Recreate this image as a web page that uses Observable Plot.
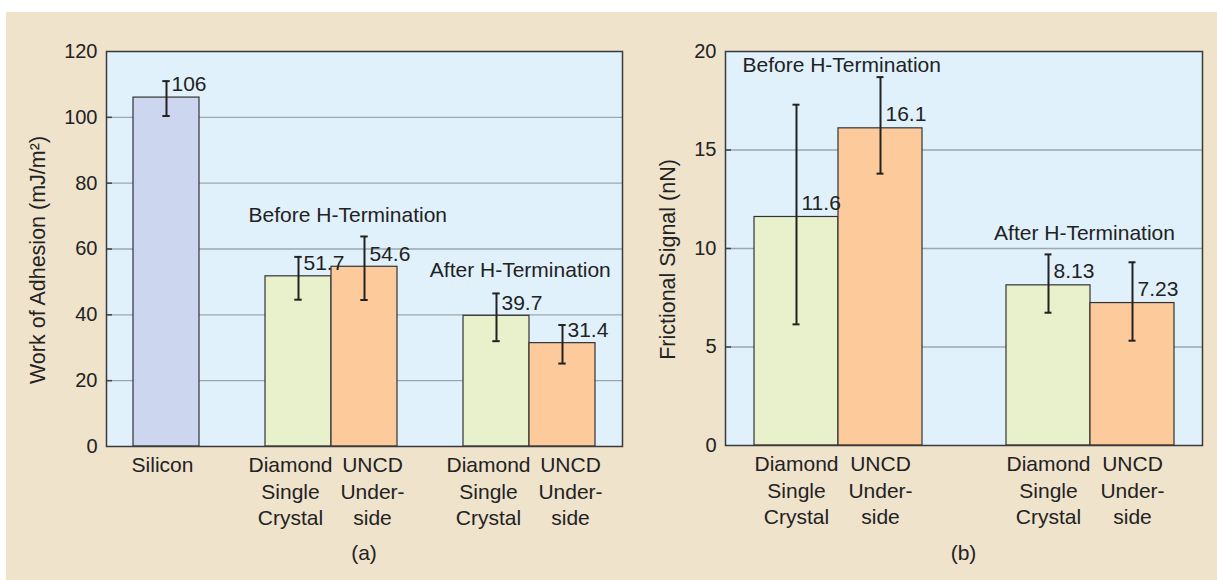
<!DOCTYPE html>
<html>
<head>
<meta charset="utf-8">
<script src="https://cdn.jsdelivr.net/npm/d3@7"></script>
<script src="https://cdn.jsdelivr.net/npm/@observablehq/plot@0.6"></script>
<style>
  html, body { margin: 0; padding: 0; background: #ffffff; width: 1217px; height: 580px; overflow: hidden; }
  #bg { position: absolute; left: 6px; top: 12px; right: 0; bottom: 0; background: #efe3cc; }
  .panel { position: absolute; top: 0; }
  .cap { position: absolute; top: 541px; font: 21px "Liberation Sans", Arial, sans-serif; color: #222; text-align: center; line-height: 24px; }
  svg text { font-family: "Liberation Sans", Arial, sans-serif; }
</style>
</head>
<body>
<div id="bg"></div>
<div id="pa" class="panel" style="left:0px;width:640px;"></div>
<div id="pb" class="panel" style="left:640px;width:577px;"></div>
<div class="cap" style="left:106px;width:516px;">(a)</div>
<div class="cap" style="left:725px;width:477px;">(b)</div>
<script>
// ---------- Panel (a): Work of adhesion ----------
const aSlots = ["si", "g1", "d1", "u1", "g2", "d2", "u2"];
const aTickText = ["Silicon", "", "Diamond\nSingle\nCrystal", "UNCD\nUnder-\nside", "", "Diamond\nSingle\nCrystal", "UNCD\nUnder-\nside"];
const aKeys = ["si", "d1", "u1", "d2", "u2"];
const aMaterial = ["Silicon", "Diamond", "UNCD", "Diamond", "UNCD"];
const aValues = [106, 51.7, 54.6, 39.7, 31.4];
const aErrLow = [100.4, 44.6, 44.5, 32.0, 25.2];
const aErrHigh = [111.0, 57.6, 63.8, 46.5, 36.9];
const aTicks = [0, 20, 40, 60, 80, 100, 120];
const aYLabel = "Work of Adhesion (mJ/m²)";

// ---------- Panel (b): Frictional signal ----------
const bSlots = ["d1", "u1", "g", "d2", "u2"];
const bTickText = ["Diamond\nSingle\nCrystal", "UNCD\nUnder-\nside", "", "Diamond\nSingle\nCrystal", "UNCD\nUnder-\nside"];
const bKeys = ["d1", "u1", "d2", "u2"];
const bMaterial = ["Diamond", "UNCD", "Diamond", "UNCD"];
const bValues = [11.6, 16.1, 8.13, 7.23];
const bErrLow = [6.15, 13.8, 6.74, 5.32];
const bErrHigh = [17.3, 18.7, 9.7, 9.3];
const bTicks = [0, 5, 10, 15, 20];
const bYLabel = "Frictional Signal (nN)";

const groupLabels = ["Before H-Termination", "After H-Termination"];

const materials = ["Silicon", "Diamond", "UNCD"];
const materialColors = ["#ccd6ee", "#e8f0cc", "#fdcb9b"];

const FONT = 21;
const TICKFONT = 20;
const INK = "#222";

function rows(keys, material, values, lo, hi) {
  return keys.map((k, i) => ({key: k, material: material[i], value: values[i], lo: lo[i], hi: hi[i]}));
}

function panel(cfg) {
  const {width, height, ml, mr, mt, mb, slots, tickText, data, ticks, yLabel, yLabelDx, padOuter, groups, tickGroups} = cfg;
  const pw = width - ml - mr;
  const step = pw / (slots.length + 2 * padOuter);
  const capHalf = (step - 8) / 2;
  const tmap = new Map(slots.map((s, i) => [s, tickText[i]]));
  const grid = ticks.slice(1, -1);
  const marks = [
    Plot.frame({fill: "#e0f1fc", stroke: null}),
    Plot.ruleY(grid, {stroke: "#9ea6ad", strokeWidth: 1.3}),
    Plot.ruleY(grid, {stroke: "#444", strokeWidth: 1.5, insetRight: pw - 6}),
    Plot.barY(data, {x: "key", y: "value", fill: "material", stroke: "#333", strokeWidth: 1.2}),
    Plot.ruleX(data, {x: "key", y1: "lo", y2: "hi", stroke: "#222", strokeWidth: 2}),
    Plot.tickY(data, {x: "key", y: "hi", stroke: "#222", strokeWidth: 2, insetLeft: capHalf, insetRight: capHalf}),
    Plot.tickY(data, {x: "key", y: "lo", stroke: "#222", strokeWidth: 2, insetLeft: capHalf, insetRight: capHalf}),
    Plot.text(data, {x: "key", y: "value", text: d => String(d.value), textAnchor: "start", dx: 5, dy: cfg.valueDy, fontSize: FONT, fill: INK}),
    Plot.axisY({ticks, tickSize: 0, tickPadding: 9, fontSize: TICKFONT, fill: INK, label: null}),
    Plot.text([yLabel], {frameAnchor: "left", rotate: -90, dx: yLabelDx, dy: 11, fontSize: 21.5, fill: INK, textAnchor: "middle", lineAnchor: "middle"}),
    Plot.frame({stroke: "#3a3a3a", strokeWidth: 1.5})
  ];
  for (const tg of tickGroups) {
    marks.push(Plot.axisX(tg.keys, {tickSize: 0, tickPadding: 7, dx: tg.dx, fontSize: FONT, fill: INK, lineHeight: 1.26, tickFormat: d => tmap.get(d), label: null}));
  }
  for (const g of groups) {
    if (g.frame) {
      marks.push(Plot.text([g.text], {frameAnchor: "top-left", dx: g.dx, dy: g.dy, textAnchor: "start", lineAnchor: "middle", fontSize: FONT, fill: INK}));
    } else {
      const yv = d3.max(data.filter(d => g.keys.includes(d.key)), d => d.hi);
      marks.push(Plot.text([g.text], {x: () => g.keys[0], y: () => yv, dx: step / 2 + g.dx, dy: g.dy, textAnchor: "middle", lineAnchor: "middle", fontSize: FONT, fill: INK}));
    }
  }
  return Plot.plot({
    width, height,
    marginLeft: ml, marginRight: mr, marginTop: mt, marginBottom: mb,
    style: {background: "transparent", overflow: "visible"},
    x: {type: "band", domain: slots, paddingInner: 0, paddingOuter: padOuter, align: 0.5},
    y: {domain: [ticks[0], ticks[ticks.length - 1]]},
    color: {domain: materials, range: materialColors},
    marks
  });
}

const aData = rows(aKeys, aMaterial, aValues, aErrLow, aErrHigh);
const bData = rows(bKeys, bMaterial, bValues, bErrLow, bErrHigh);

document.getElementById("pa").appendChild(panel({
  width: 640, height: 540, ml: 106, mr: 18, mt: 51, mb: 94,
  slots: aSlots, tickText: aTickText, data: aData, ticks: aTicks,
  yLabel: aYLabel, yLabelDx: -68, padOuter: 0.375, valueDy: -13,
  tickGroups: [
    {keys: ["si"], dx: -4},
    {keys: ["d1", "d2"], dx: -8},
    {keys: ["u1", "u2"], dx: 8}
  ],
  groups: [
    {text: groupLabels[0], keys: ["d1", "u1"], dx: 16, dy: -21.5},
    {text: groupLabels[1], keys: ["d2", "u2"], dx: -9.5, dy: -22.7}
  ]
}));

document.getElementById("pb").appendChild(panel({
  width: 577, height: 540, ml: 85, mr: 15, mt: 51, mb: 95,
  slots: bSlots, tickText: bTickText, data: bData, ticks: bTicks,
  yLabel: bYLabel, yLabelDx: -57.5, padOuter: 0.306, valueDy: -14,
  tickGroups: [
    {keys: ["d1", "u1", "d2", "u2"], dx: 0}
  ],
  groups: [
    {text: groupLabels[0], frame: true, dx: 17, dy: 13.5},
    {text: groupLabels[1], keys: ["d2", "u2"], dx: -6.5, dy: -20.7}
  ]
}));
</script>
</body>
</html>
